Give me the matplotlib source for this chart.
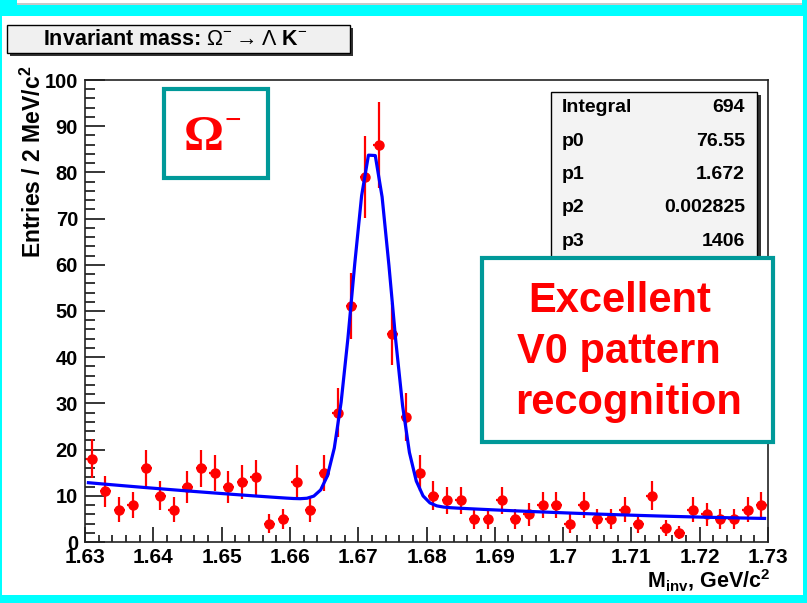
import numpy as np
import matplotlib.pyplot as plt
from matplotlib.patches import Rectangle

plt.rcParams['font.family'] = ['Liberation Sans', 'DejaVu Sans']
plt.rcParams['mathtext.fontset'] = 'custom'
plt.rcParams['mathtext.rm'] = 'Liberation Sans'
plt.rcParams['mathtext.it'] = 'Liberation Sans:italic'
plt.rcParams['mathtext.bf'] = 'Liberation Sans:bold'

W, H = 807, 603

# histogram, 2 MeV bins from 1.63 to 1.73 GeV/c^2
bin_lo, bin_hi, bin_w = 1.63, 1.73, 0.002
counts = [18, 11, 7, 8, 16, 10, 7, 12, 16, 15,
          12, 13, 14, 4, 5, 13, 7, 15, 28, 51,
          79, 86, 45, 27, 15, 10, 9, 9, 5, 5,
          9, 5, 6, 8, 8, 4, 8, 5, 5, 7,
          4, 10, 3, 2, 7, 6, 5, 5, 7, 8]

# fit: gaussian (p0, p1, p2) on top of a smooth background
stat_names = ["Integral", "p0", "p1", "p2", "p3"]
stat_values = ["694", "76.55", "1.672", "0.002825", "1406"]
p0, p1, p2 = 76.55, 1.672, 0.002825
bg_coef = [12.9, -131.0, 529.0]  # a + b*u + c*u^2, u = m - 1.63
n_fit_points = 100

x_ticks = [1.63, 1.64, 1.65, 1.66, 1.67, 1.68, 1.69, 1.70, 1.71, 1.72, 1.73]
x_ticklabels = ["1.63", "1.64", "1.65", "1.66", "1.67", "1.68", "1.69",
                "1.7", "1.71", "1.72", "1.73"]
y_ticks = [0, 10, 20, 30, 40, 50, 60, 70, 80, 90, 100]

counts = np.array(counts, dtype=float)
centers = bin_lo + bin_w * (np.arange(len(counts)) + 0.5)

step = (bin_hi - bin_lo) / n_fit_points
m_fit = bin_lo + step * (np.arange(n_fit_points) + 0.5)
u = m_fit - bin_lo
fit = p0 * np.exp(-0.5 * ((m_fit - p1) / p2) ** 2) + bg_coef[0] + bg_coef[1] * u + bg_coef[2] * u ** 2


def fx(px):
    return px / W


def fy(py):
    return 1 - py / H


def fig_rect(x0, y0, x1, y1, **kw):
    r = Rectangle((fx(x0), fy(y1)), (x1 - x0) / W, (y1 - y0) / H,
                  transform=fig.transFigure, **kw)
    fig.add_artist(r)
    return r


fig = plt.figure(figsize=(W / 100, H / 100), dpi=100, facecolor='white')
ax = fig.add_axes([fx(85), fy(542), (768 - 85) / W, (542 - 80) / H])

ax.errorbar(centers, counts, yerr=np.sqrt(counts), xerr=0.0008, fmt='o',
            color='#ff0000', ms=6.5, elinewidth=1.6, capsize=0, zorder=2)
ax.plot(m_fit, fit, color='#0000ff', lw=2.3, zorder=3)

ax.set_xlim(bin_lo, bin_hi)
ax.set_ylim(0, 100)
ax.set_xticks(x_ticks)
ax.set_xticklabels(x_ticklabels)
ax.set_yticks(y_ticks)
ax.set_xticks(np.arange(1.63, 1.7301, 0.002), minor=True)
ax.set_yticks(np.arange(0, 101, 2), minor=True)
ax.tick_params(axis='x', which='major', direction='in', length=10.5, width=1.1, pad=4, labelsize=15)
ax.tick_params(axis='x', which='minor', direction='in', length=5, width=1.1)
ax.tick_params(axis='y', which='major', direction='in', length=14.5, width=1.1, pad=5, labelsize=14.5)
ax.tick_params(axis='y', which='minor', direction='in', length=7.5, width=1.1)
for lab in ax.get_xticklabels() + ax.get_yticklabels():
    lab.set_fontweight('bold')
for s in ax.spines.values():
    s.set_linewidth(1.2)
    s.set_color('#222222')

# axis titles
fig.text(fx(33), fy(66), r"Entries / 2 MeV/c$^{\mathbf{2}}$", rotation=90,
         ha='center', va='top', fontsize=16.5, fontweight='bold')
fig.text(fx(770), fy(588), r"M$_{\mathbf{inv}}$, GeV/c$^{\mathbf{2}}$",
         ha='right', va='baseline', fontsize=15.5, fontweight='bold')

# histogram title box
fig_rect(10, 28, 353, 56, facecolor='#333333', edgecolor='none', zorder=2)
fig_rect(7, 25, 350, 53, facecolor='#f0f0f0', edgecolor='black', lw=1, zorder=2.1)
fig.text(fx(175), fy(45), r"Invariant mass: $\Omega^{-} \rightarrow \Lambda$ K$^{-}$",
         ha='center', va='baseline', fontsize=15.5, fontweight='bold', zorder=2.2)

# stats box
fig_rect(554, 95, 761, 293, facecolor='#333333', edgecolor='none', zorder=2)
fig_rect(551, 92, 757, 290, facecolor='#f3f3f3', edgecolor='black', lw=1, zorder=2.1)
for i, (name, val) in enumerate(zip(stat_names, stat_values)):
    yb = 112 + i * 33.5
    fig.text(fx(562), fy(yb), name, ha='left', va='baseline', fontsize=14,
             fontweight='bold', zorder=2.2)
    fig.text(fx(745), fy(yb), val, ha='right', va='baseline', fontsize=14,
             fontweight='bold', zorder=2.2)

# annotation boxes
teal = '#009999'
fig_rect(164, 89, 268, 178, facecolor='white', edgecolor=teal, lw=3, zorder=4)
fig.text(fx(184), fy(150), "Ω", ha='left', va='baseline', fontsize=36,
         family='Liberation Serif', fontweight='bold', color='#ff0000', zorder=5)
fig.text(fx(225), fy(129), "\u2212", ha='left', va='baseline', fontsize=21,
         family='Liberation Serif', fontweight='bold', color='#ff0000', zorder=5)

fig_rect(482, 258, 773, 442, facecolor='white', edgecolor=teal, lw=3, zorder=4)
for txt, xl, yb in [("Excellent", 528, 312), ("V0 pattern", 517, 363), ("recognition", 515, 414)]:
    fig.text(fx(xl), fy(yb), txt, ha='left', va='baseline', fontsize=30,
             fontweight='bold', color='#ff0000', zorder=5)

# slide background around the canvas
cyan = '#00ffff'
fig_rect(0, 5, W, 16, facecolor=cyan, edgecolor='none', zorder=10)
fig_rect(0, 0, 17, 5, facecolor=cyan, edgecolor='none', zorder=10)
fig_rect(802, 0, W, 5, facecolor=cyan, edgecolor='none', zorder=10)
fig_rect(0, 0, 2, H, facecolor=cyan, edgecolor='none', zorder=10)
fig_rect(803, 0, W, H, facecolor=cyan, edgecolor='none', zorder=10)
fig_rect(0, 595, W, H, facecolor=cyan, edgecolor='none', zorder=10)
fig_rect(17, 3, 802, 5, facecolor='#c8c8c8', edgecolor='none', zorder=10)

fig.savefig('out.png', dpi=100, facecolor=fig.get_facecolor())
